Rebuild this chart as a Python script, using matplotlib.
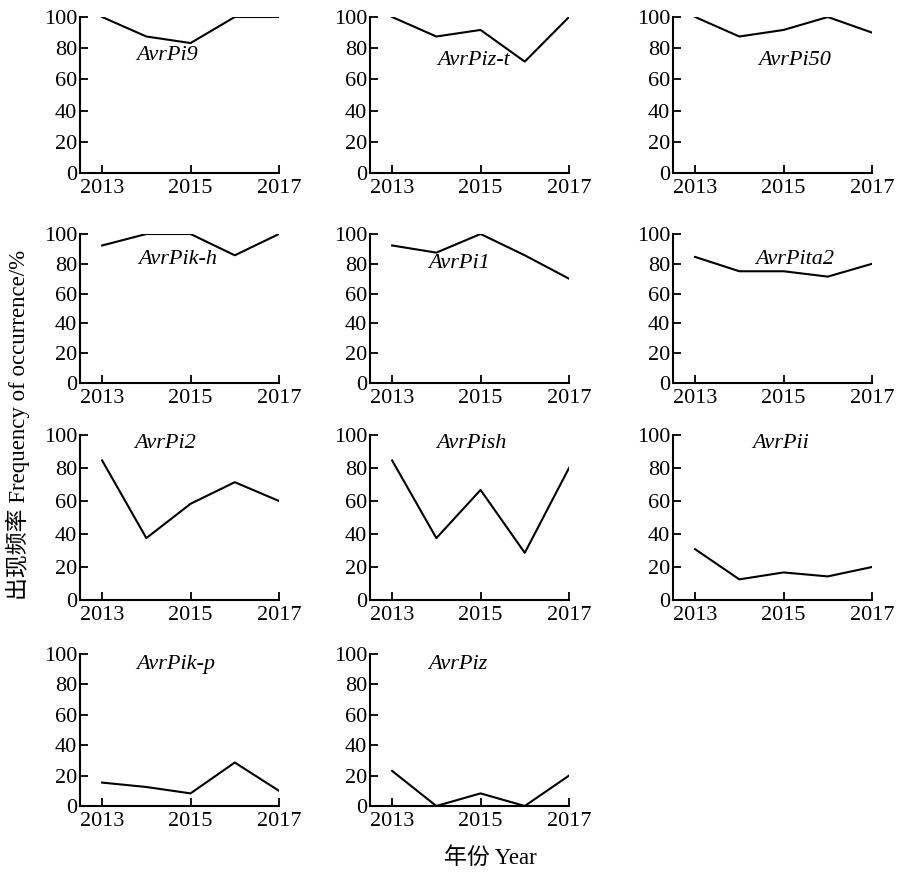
import matplotlib
matplotlib.use("Agg")
import matplotlib.pyplot as plt

years = [2013, 2014, 2015, 2016, 2017]

names = ["AvrPi9", "AvrPiz-t", "AvrPi50",
         "AvrPik-h", "AvrPi1", "AvrPita2",
         "AvrPi2", "AvrPish", "AvrPii",
         "AvrPik-p", "AvrPiz"]

avrpi9 = [100, 87.5, 83.3, 100, 100]
avrpiz_t = [100, 87.5, 91.7, 71.4, 100]
avrpi50 = [100, 87.5, 91.7, 100, 90]
avrpik_h = [92.3, 100, 100, 85.7, 100]
avrpi1 = [92.3, 87.5, 100, 85.7, 70]
avrpita2 = [84.6, 75, 75, 71.4, 80]
avrpi2 = [84.6, 37.5, 58.3, 71.4, 60]
avrpish = [84.6, 37.5, 66.7, 28.6, 80]
avrpii = [30.8, 12.5, 16.7, 14.3, 20]
avrpik_p = [15.4, 12.5, 8.3, 28.6, 10]
avrpiz = [23.1, 0, 8.3, 0, 20]

series = [avrpi9, avrpiz_t, avrpi50, avrpik_h, avrpi1, avrpita2,
          avrpi2, avrpish, avrpii, avrpik_p, avrpiz]

# where each gene name sits inside its panel (axes fraction)
label_pos = [(0.44, 0.755), (0.52, 0.72), (0.61, 0.72),
             (0.49, 0.83), (0.45, 0.80), (0.61, 0.83),
             (0.43, 0.95), (0.51, 0.95), (0.54, 0.95),
             (0.48, 0.93), (0.44, 0.93)]

fonts = ["Liberation Serif", "Noto Sans CJK SC"]
plt.rcParams["font.family"] = fonts

fig = plt.figure(figsize=(8.98, 8.73), dpi=100)

W, H = 898, 873
col_left = [80, 370, 673]
col_w = 199
row_top = [17, 234, 435, 654]
row_bot = [173, 383, 600, 806]

for i, (name, vals) in enumerate(zip(names, series)):
    r, c = divmod(i, 3)
    ax = fig.add_axes([col_left[c] / W, 1 - row_bot[r] / H,
                       col_w / W, (row_bot[r] - row_top[r]) / H])
    ax.plot(years, vals, color="black", lw=1.5)
    ax.set_xlim(2012.5, 2017)
    ax.set_ylim(0, 100)
    ax.set_xticks([2013, 2015, 2017])
    ax.set_yticks([0, 20, 40, 60, 80, 100])
    for s in ["top", "right"]:
        ax.spines[s].set_visible(False)
    for s in ["left", "bottom"]:
        ax.spines[s].set_linewidth(1.5)
    ax.tick_params(direction="in", length=6, width=1.3, labelsize=16, pad=2)
    ax.tick_params(axis="x", pad=4)
    ax.text(label_pos[i][0], label_pos[i][1], name, transform=ax.transAxes,
            ha="center", va="center", fontsize=16, style="italic")

fig.text(18 / W, 1 - 425 / H, "出现频率 Frequency of occurrence/%",
         rotation=90, ha="center", va="center", fontsize=16.5)
fig.text(490 / W, 1 - 858 / H, "年份 Year", ha="center", va="center",
         fontsize=16.5)

fig.savefig("out.png", dpi=100)
